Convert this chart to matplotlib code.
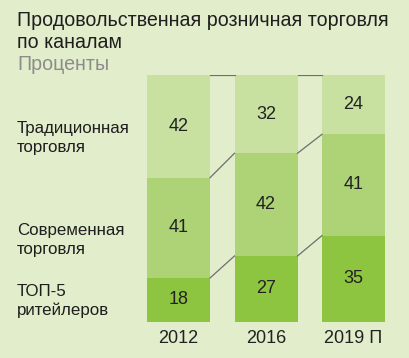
import matplotlib.pyplot as plt
import numpy as np

years = ["2012", "2016", "2019 П"]
top5 = [18, 27, 35]
modern = [41, 42, 41]
traditional = [42, 32, 24]

colors = ["#8dc540", "#aed276", "#c8e1a1"]
bg = "#e2edcb"

plt.rcParams["font.family"] = ["Liberation Sans", "DejaVu Sans"]

W, H = 409, 358
fig = plt.figure(figsize=(W / 100, H / 100), dpi=100, facecolor=bg)


def px(x, y):
    return x / W, 1 - y / H


ax = fig.add_axes([134.75 / W, 1 - 322 / H, 262.5 / W, 247 / H])
ax.set_facecolor(bg)

data = np.array([top5, modern, traditional], dtype=float)
shares = data / data.sum(axis=0) * 100
x = np.arange(len(years))
width = 0.72

bottom = np.zeros(len(years))
bounds = [bottom.copy()]
for i in range(len(data)):
    ax.bar(x, shares[i], width, bottom=bottom, color=colors[i], linewidth=0)
    for j in range(len(years)):
        ax.text(x[j], bottom[j] + shares[i][j] / 2, str(int(data[i][j])),
                ha="center", va="center", fontsize=13, color="#222222")
    bottom = bottom + shares[i]
    bounds.append(bottom.copy())

# connector lines between bars
for b in bounds[1:]:
    for j in range(len(years) - 1):
        ax.plot([x[j] + width / 2, x[j + 1] - width / 2], [b[j], b[j + 1]],
                color="#6e6e6e", linewidth=0.9)

ax.set_xlim(-0.5, 2.5)
ax.set_ylim(0, 100)
ax.axis("off")

for j, yr in enumerate(years):
    ax.text(x[j], -6.8, yr, ha="center", va="center", fontsize=13, color="#222222")

fig.text(*px(17, 20), "Продовольственная розничная торговля", fontsize=14.1,
         color="#1e1e1e", va="center", ha="left")
fig.text(*px(17, 43), "по каналам", fontsize=14.1, color="#1e1e1e", va="center", ha="left")
fig.text(*px(17, 65), "Проценты", fontsize=14.1, color="#8c8c8c", va="center", ha="left")

labels = [("Традиционная\nторговля", 138), ("Современная\nторговля", 240),
          ("ТОП-5\nритейлеров", 301)]
for txt, yy in labels:
    fig.text(*px(17, yy), txt, fontsize=12.2, color="#1e1e1e", va="center", ha="left",
             linespacing=1.3)

fig.savefig("out.png", dpi=100, facecolor=bg)
